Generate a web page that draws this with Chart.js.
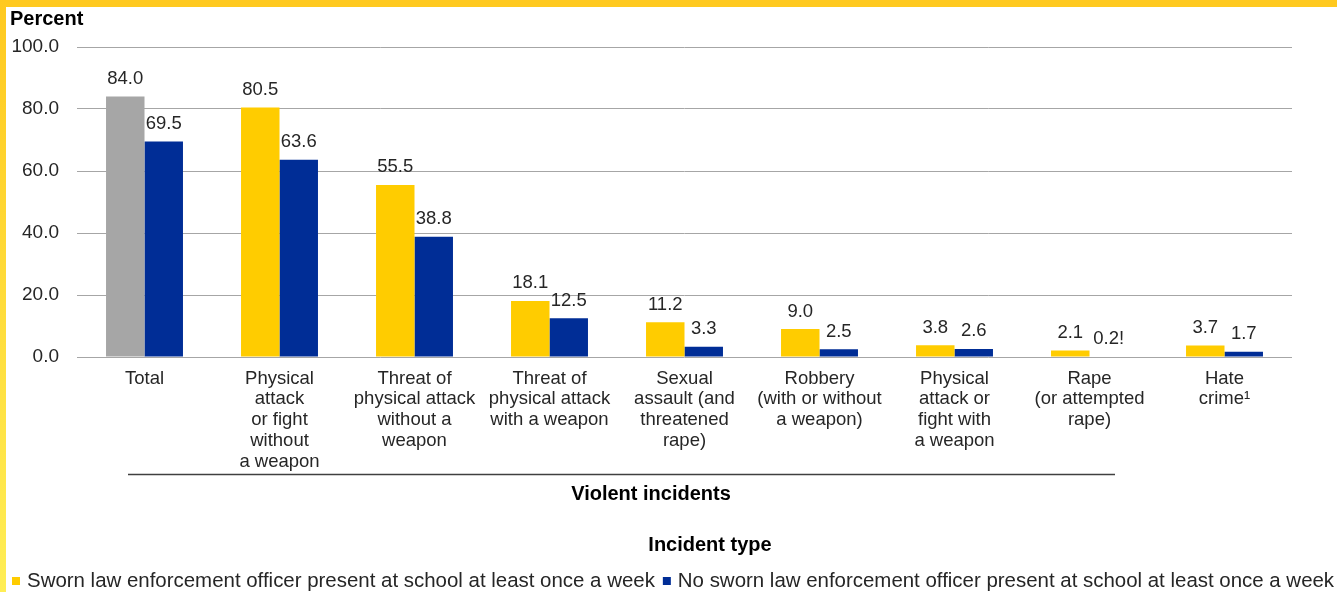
<!DOCTYPE html>
<html><head><meta charset="utf-8">
<script src="https://cdn.jsdelivr.net/npm/chart.js@4/dist/chart.umd.min.js"></script>
<style>
html,body{margin:0;padding:0;background:#fff;}
#wrap{position:relative;width:1337px;height:592px;overflow:hidden;background:#fff;}
#topband{position:absolute;left:0;top:0;width:1337px;height:7px;background:#FFC91F;}
#leftband{position:absolute;left:0;top:0;width:6px;height:592px;background:linear-gradient(#FFC91F,#FFEE55);}
canvas{position:absolute;left:0;top:0;}
</style></head>
<body><div id="wrap"><canvas id="c" width="1337" height="592"></canvas><div id="topband"></div><div id="leftband"></div></div>
<script>
const categories = [
  ["Total"],
  ["Physical","attack","or fight","without","a weapon"],
  ["Threat of","physical attack","without a","weapon"],
  ["Threat of","physical attack","with a weapon"],
  ["Sexual","assault (and","threatened","rape)"],
  ["Robbery","(with or without","a weapon)"],
  ["Physical","attack or","fight with","a weapon"],
  ["Rape","(or attempted","rape)"],
  ["Hate","crime\u00B9"]
];
const seriesNames = [
  "Sworn law enforcement officer present at school at least once a week",
  "No sworn law enforcement officer present at school at least once a week"
];
const swornValues   = [84.0, 80.5, 55.5, 18.1, 11.2, 9.0, 3.8, 2.1, 3.7];
const noSwornValues = [69.5, 63.6, 38.8, 12.5, 3.3, 2.5, 2.6, 0.2, 1.7];
const swornFlags    = ["", "", "", "", "", "", "", "", ""];
const noSwornFlags  = ["", "", "", "", "", "", "", "!", ""];
const yTicks = [0, 20, 40, 60, 80, 100];
const yAxisTitle = "Percent";
const groupTitle = "Violent incidents";
const xAxisTitle = "Incident type";

const FONT = "'Liberation Sans', Arial, sans-serif";
const TXT = "#262626";
const YELLOW = "#FFCC00", GRAY = "#A6A6A6", BLUE = "#002D96";
const flags = [swornFlags, noSwornFlags];

const labelPlugin = {
  id: 'valueLabels',
  afterDatasetsDraw(chart) {
    const ctx = chart.ctx;
    ctx.save();
    ctx.font = "18.5px " + FONT;
    ctx.fillStyle = TXT;
    ctx.textAlign = 'center';
    ctx.textBaseline = 'alphabetic';
    chart.data.datasets.forEach((ds, di) => {
      const meta = chart.getDatasetMeta(di);
      meta.data.forEach((bar, i) => {
        const v = ds.data[i];
        ctx.fillText(v.toFixed(1) + flags[di][i], bar.x, bar.y - 12.5);
      });
    });
    ctx.restore();
  }
};

const decoPlugin = {
  id: 'deco',
  afterDraw(chart) {
    const ctx = chart.ctx;
    ctx.save();
    ctx.fillStyle = "#000";
    ctx.font = "bold 20px " + FONT;
    ctx.textBaseline = 'middle';
    ctx.textAlign = 'left';
    ctx.fillText(yAxisTitle, 10, 19);
    // group bracket line
    ctx.strokeStyle = "#404040";
    ctx.lineWidth = 1.5;
    ctx.beginPath();
    ctx.moveTo(128, 474.5);
    ctx.lineTo(1115, 474.5);
    ctx.stroke();
    ctx.textAlign = 'center';
    ctx.fillText(groupTitle, 651, 494);
    ctx.fillText(xAxisTitle, 710, 545);
    // legend
    ctx.font = "20.45px " + FONT;
    ctx.fillStyle = TXT;
    ctx.textAlign = 'left';
    const colors = [YELLOW, BLUE];
    let x = 12;
    const y = 581;
    seriesNames.forEach((name, i) => {
      ctx.fillStyle = colors[i];
      ctx.fillRect(x, y - 4, 8, 8);
      ctx.fillStyle = TXT;
      ctx.fillText(name, x + 15, y);
      x += 15 + ctx.measureText(name).width + 8;
    });
    ctx.restore();
  }
};

new Chart(document.getElementById('c'), {
  type: 'bar',
  data: {
    labels: categories,
    datasets: [
      {
        label: seriesNames[0],
        data: swornValues,
        backgroundColor: (c) => c.dataIndex === 0 ? GRAY : YELLOW,
        categoryPercentage: 0.57,
        barPercentage: 1.0
      },
      {
        label: seriesNames[1],
        data: noSwornValues,
        backgroundColor: BLUE,
        categoryPercentage: 0.57,
        barPercentage: 1.0
      }
    ]
  },
  options: {
    responsive: false,
    animation: false,
    devicePixelRatio: 1,
    layout: { padding: { top: 47, right: 45, left: 0, bottom: 0 } },
    plugins: { legend: { display: false }, tooltip: { enabled: false } },
    scales: {
      x: {
        grid: { display: false, drawTicks: false },
        border: { display: false },
        ticks: {
          font: { family: FONT, size: 18.5, lineHeight: 1.13 },
          color: TXT,
          padding: 11,
          maxRotation: 0,
          minRotation: 0,
          autoSkip: false
        },
        afterFit: (s) => { s.height = 235; }
      },
      y: {
        min: 0,
        max: 100,
        afterBuildTicks: (s) => { s.ticks = yTicks.map(v => ({ value: v })); },
        ticks: {
          font: { family: FONT, size: 19 },
          color: TXT,
          padding: 18,
          callback: (v) => Number(v).toFixed(1)
        },
        grid: { color: "#A6A6A6", lineWidth: 1, drawTicks: false },
        border: { display: false },
        afterFit: (s) => { s.width = 77; }
      }
    }
  },
  plugins: [labelPlugin, decoPlugin]
});
</script>
</body></html>
